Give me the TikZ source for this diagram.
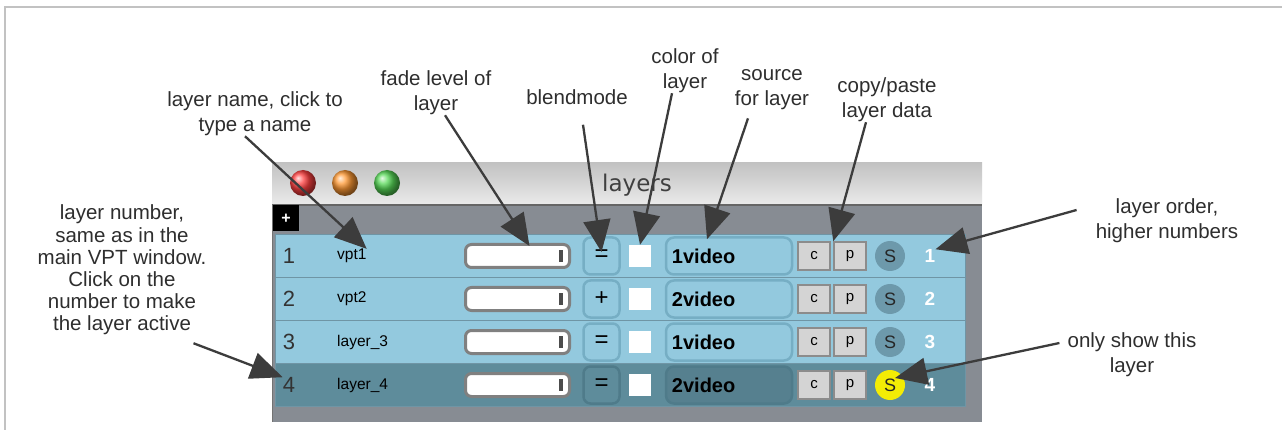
\documentclass[tikz,border=0pt]{standalone}
\usepackage{fontspec}
\setmainfont{Liberation Sans}
\newfontfamily\titlefont{DejaVu Sans}
\usepackage{xcolor}
\usetikzlibrary{arrows.meta, positioning}

\definecolor{framegray}{HTML}{C2C2C2}
\definecolor{wingray}{HTML}{878C93}
\definecolor{rowblue}{HTML}{93C9DE}
\definecolor{rowdark}{HTML}{5E8C9B}
\definecolor{rowline}{HTML}{6F95A5}
\definecolor{boxblue}{HTML}{76AEC4}
\definecolor{boxdark}{HTML}{4F7B8A}
\definecolor{srcdark}{HTML}{56808F}
\definecolor{solooff}{HTML}{6D99AB}
\definecolor{soloon}{HTML}{F3EC05}
\definecolor{arrowgray}{HTML}{3C3C3C}
\definecolor{textgray}{HTML}{2E2E2E}

\tikzset{
    annot/.style={align=center, inner sep=0pt, text=textgray,
        font=\fontsize{20.5}{25}\selectfont},
    pointer/.style={draw=arrowgray, line width=2.3pt,
        -{Triangle[length=32pt,width=27pt]}},
    laynum/.style={inner sep=0pt, text=black!80, font=\fontsize{22}{22}\selectfont},
    layname/.style={anchor=west, inner sep=0pt, font=\fontsize{15.5}{16}\selectfont},
    fadebox/.style={draw=black!50, line width=3pt, fill=white, rounded corners=6pt,
        minimum width=104pt, minimum height=23pt, inner sep=0pt},
    blendbox/.style={draw=#1, line width=2.5pt, rounded corners=7pt,
        minimum width=36pt, minimum height=37pt, inner sep=0pt,
        font=\fontsize{24}{24}\selectfont},
    colbox/.style={fill=white, minimum size=22pt, inner sep=0pt},
    srcbox/.style={draw=#1, line width=2.5pt, rounded corners=8pt,
        minimum width=126pt, minimum height=37pt, inner sep=0pt},
    srctext/.style={inner sep=0pt, font=\bfseries\fontsize{20}{20}\selectfont},
    cpbox/.style={fill=black!17, draw=black!45, line width=1.5pt,
        minimum width=32pt, minimum height=28pt, inner sep=0pt,
        font=\fontsize{15}{15}\selectfont},
    solo/.style={circle, fill=#1, minimum size=30pt, inner sep=0pt,
        text=black!85, font=\fontsize{18}{18}\selectfont},
    ordnum/.style={inner sep=0pt, text=white, font=\bfseries\fontsize{19}{19}\selectfont}
}

\begin{document}
\begin{tikzpicture}[x=1pt, y=-1pt]
    \useasboundingbox (0,0) rectangle (1282,430);
    \fill[white] (0,0) rectangle (1282,430);

    % Frame
    \draw[framegray, line width=1.5pt] (5,430) -- (5,7) -- (1282,7);

    % Window
    \shade[top color=black!24, bottom color=black!8] (272,163) rectangle (982,205);
    \fill[wingray] (272,205) rectangle (982,422);
    \draw[black!60, line width=1.5pt] (272,205) -- (982,205);
    \draw[black!55, line width=1.5pt] (272.5,205) -- (272.5,422);
    \shade[ball color=red!75!white] (303,183) circle[radius=13pt];
    \shade[ball color=orange!80!white] (345,183) circle[radius=13pt];
    \shade[ball color=green!60!white!85!black] (387,183) circle[radius=13pt];
    \node[text=black!75, font=\titlefont\fontsize{23}{23}\selectfont] (title) at (637,185) {layers};
    \node[fill=black, minimum size=26pt, inner sep=0pt, text=white,
        font=\bfseries\fontsize{16}{16}\selectfont] (addbtn) at (286,218.5) {+};

    % Layer rows
    \foreach \i/\nm/\bm/\src/\rc/\bc/\fc/\sc in {
        1/vpt1/=/1video/rowblue/boxblue/rowblue/solooff,
        2/vpt2/+/2video/rowblue/boxblue/rowblue/solooff,
        3/layer\_3/=/1video/rowblue/boxblue/rowblue/solooff,
        4/layer\_4/=/2video/rowdark/boxdark/srcdark/soloon}{
        \pgfmathsetmacro\y{213+43*\i}
        \draw[rowline, fill=\rc] (275,\y-21.5) rectangle (965,\y+21.5);
        \node[laynum] (num\i) at (289,\y) {\i};
        \node[layname] (name\i) at (337,\y) {\nm};
        \node[fadebox] (fade\i) at (517.5,\y) {};
        \fill[black!70] (559,\y-6) rectangle (563,\y+6);
        \node[blendbox=\bc] (blend\i) at (601.5,\y) {\bm};
        \node[colbox] (col\i) at (640,\y) {};
        \node[srcbox=\bc, fill=\fc] (src\i) at (729,\y) {};
        \node[srctext, anchor=west, right=7pt of src\i.west] (srctxt\i) {\src};
        \node[cpbox] (c\i) at (814,\y) {c};
        \node[cpbox] (p\i) at (850,\y) {p};
        \node[solo=\sc] (solo\i) at (890,\y) {S};
        \node[ordnum] (ord\i) at (930,\y) {\i};
    }

    % Labels
    \node[annot] (namelbl) at (255,114) {layer name, click to\\type a name};
    \node[annot] (fadelbl) at (436,93) {fade level of\\layer};
    \node[annot] (blendlbl) at (577,97) {blendmode};
    \node[annot] (colorlbl) at (685,71) {color of\\layer};
    \node[annot] (srclbl) at (772,90) {source\\for layer};
    \node[annot] (copylbl) at (887,100) {copy/paste\\layer data};
    \node[annot] (orderlbl) at (1167,221) {layer order,\\higher numbers};
    \node[annot] (onlylbl) at (1132,355) {only show this\\layer};
    \node[annot, font=\fontsize{20.5}{22.2}\selectfont] (numlbl) at (122,270)
        {layer number,\\same as in the\\main VPT window.\\Click on the\\number to make\\the layer active};

    % Pointers
    \draw[pointer] ([xshift=-10pt]namelbl.south) -- (name1.north east);
    \draw[pointer] ([xshift=9pt]fadelbl.south) -- ([xshift=12pt,yshift=-3pt]fade1.north);
    \draw[pointer] ([xshift=6pt,yshift=-20pt]blendlbl.south) -- ([yshift=4pt]blend1.center);
    \draw[pointer] ([xshift=-13pt]colorlbl.south) -- (col1.north);
    \draw[pointer] ([xshift=-24pt,yshift=-8pt]srclbl.south) -- ([xshift=-22pt,yshift=-3pt]src1.north);
    \draw[pointer] ([xshift=-21pt]copylbl.south) -- (p1.north west);
    \draw[pointer] ([xshift=-19pt,yshift=11pt]orderlbl.west) -- (ord1.north east);
    \draw[pointer] ([xshift=-8pt,yshift=12pt]onlylbl.west) -- ([xshift=5pt,yshift=7pt]solo4.center);
    \draw[pointer] ([xshift=-13pt,yshift=-8pt]numlbl.south east) -- (num4.north west);
\end{tikzpicture}
\end{document}
